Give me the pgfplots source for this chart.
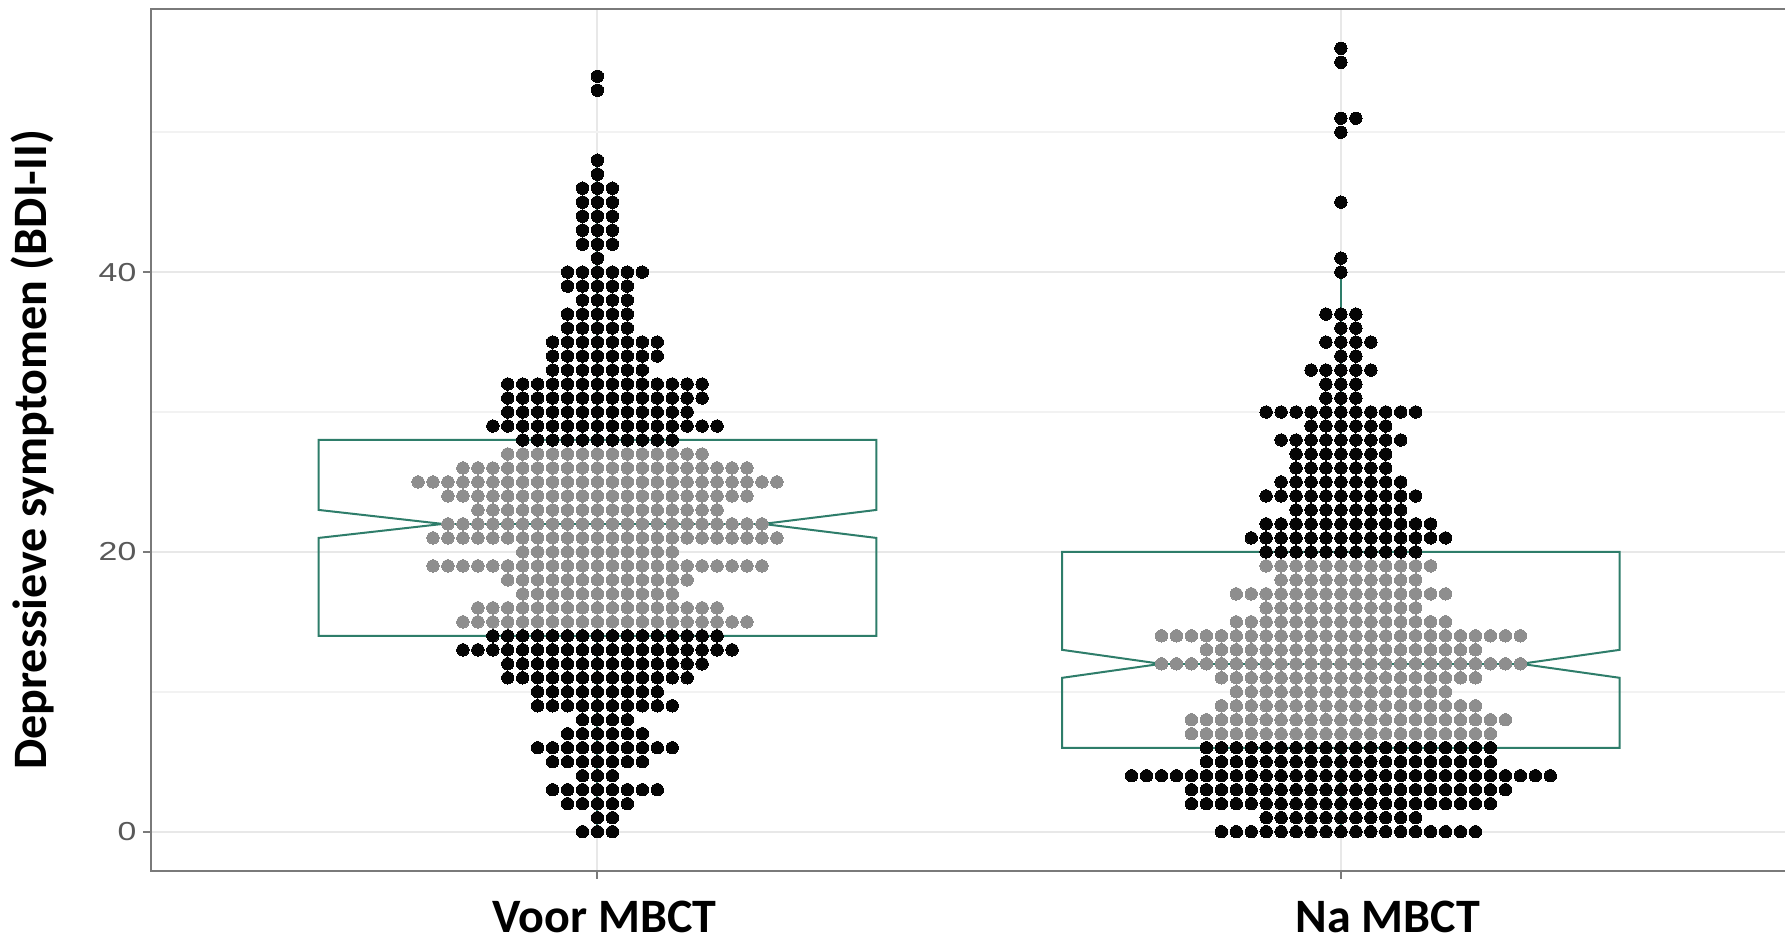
\documentclass[border=0pt]{standalone}
\usepackage{pgfplots}
\pgfplotsset{compat=1.18}
\usepackage{fontspec}
\setmainfont{Carlito}
\newfontfamily\tickfont[FakeStretch=1.3]{Liberation Sans}
\definecolor{boxteal}{HTML}{2E7D6A}
\definecolor{dotgray}{HTML}{8E8E8E}
\definecolor{dotblack}{HTML}{050505}
\definecolor{gridmaj}{HTML}{E8E8E8}
\definecolor{gridmin}{HTML}{F2F2F2}
\definecolor{framegray}{HTML}{7A7A7A}
\definecolor{ticktext}{HTML}{595959}

% dot rows: value/count
\def\cBA{}\def\cGA{}\def\cBB{}\def\cGB{}
\newcommand\dotrow[4]{%
  \pgfmathtruncatemacro\lo{-floor((#3-1)/2)}%
  \pgfmathtruncatemacro\hi{#3-1+\lo}%
  \foreach \k in {\lo,...,\hi}{%
    \pgfmathsetmacro\xx{#1+\k*0.02011}%
    \xdef#4{#4 (\xx,#2)}%
  }%
}
% Voor MBCT
\foreach \v/\n in {54/1,53/1,48/1,47/1,46/3,45/3,44/3,43/3,42/3,41/1,40/6,39/5,38/4,37/5,36/5,35/8,34/8,33/7,32/14,31/14,30/13,29/16,28/11,14/16,13/19,12/14,11/13,10/9,9/10,8/4,7/6,6/10,5/7,4/3,3/8,2/5,1/2,0/3}{\dotrow{1}{\v}{\n}{\cBA}}
\foreach \v/\n in {27/14,26/20,25/25,24/21,23/17,22/22,21/24,20/11,19/23,18/13,17/11,16/17,15/20}{\dotrow{1}{\v}{\n}{\cGA}}
% Na MBCT
\foreach \v/\n in {56/1,55/1,51/2,50/1,45/1,41/1,40/1,37/3,36/2,35/4,34/2,33/5,32/3,31/3,30/11,29/6,28/9,27/7,26/7,25/9,24/11,23/8,22/12,21/14,20/11,6/20,5/20,4/29,3/22,2/21,1/11,0/18}{\dotrow{2}{\v}{\n}{\cBB}}
\foreach \v/\n in {19/12,18/10,17/15,16/11,15/15,14/25,13/19,12/25,11/18,10/15,9/18,8/22,7/21}{\dotrow{2}{\v}{\n}{\cGB}}

\pgfplotsset{
  blackdots/.style={only marks, color=dotblack, mark=*, mark size=3.1pt, mark options={draw=dotblack, fill=dotblack, line width=0pt}},
  graydots/.style={only marks, color=dotgray, mark=*, mark size=3.1pt, mark options={draw=dotgray, fill=dotgray, line width=0pt}},
  boxline/.style={boxteal, line width=1pt, no marks, line join=miter},
}

\begin{document}
\begin{tikzpicture}
\useasboundingbox (0,0) rectangle (892.5pt,473pt);
\begin{axis}[
  at={(75.7pt,37.55pt)}, anchor=south west,
  scale only axis, width=817.8pt, height=430.9pt,
  xmin=0.4, xmax=2.6, ymin=-2.8, ymax=58.8,
  xtick={1,2}, xticklabels={},
  ytick={0,20,40}, minor ytick={10,30,50},
  grid=both,
  major grid style={gridmaj, line width=1pt},
  minor grid style={gridmin, line width=1pt},
  axis line style={framegray, line width=1pt},
  tick style={framegray, line width=1pt},
  major tick length=4pt, minor tick length=0pt,
  tick align=outside,
  xtick pos=bottom, ytick pos=left,
  /pgf/number format/assume math mode=true,
  yticklabel style={font=\tickfont\fontsize{13}{13}\selectfont, text=ticktext},
  clip=false,
]
\edef\tmp{\noexpand\addplot[graydots] coordinates {\cGA};}\tmp
\edef\tmp{\noexpand\addplot[blackdots] coordinates {\cBA};}\tmp
\edef\tmp{\noexpand\addplot[graydots] coordinates {\cGB};}\tmp
\edef\tmp{\noexpand\addplot[blackdots] coordinates {\cBB};}\tmp
% notched boxes
\addplot[boxline] coordinates {(0.625,14) (0.625,21) (0.792,22) (0.625,23) (0.625,28) (1.375,28) (1.375,23) (1.2226,22) (1.375,21) (1.375,14)} --cycle;
\addplot[boxline] coordinates {(0.792,22) (1.2226,22)};
\addplot[boxline] coordinates {(1,28) (1,48)};
\addplot[boxline] coordinates {(1,14) (1,0)};
\addplot[boxline] coordinates {(1.625,6) (1.625,11) (1.758,12) (1.625,13) (1.625,20) (2.375,20) (2.375,13) (2.242,12) (2.375,11) (2.375,6)} --cycle;
\addplot[boxline] coordinates {(1.758,12) (2.242,12)};
\addplot[boxline] coordinates {(2,20) (2,40)};
\addplot[boxline] coordinates {(2,6) (2,0)};
\end{axis}
\node[rotate=90, anchor=base, font=\bfseries\fontsize{24}{24}\selectfont] at (23.3pt,248.1pt) {Depressieve symptomen (BDI-II)};
\node[anchor=base, font=\bfseries\fontsize{24}{24}\selectfont] at (302.3pt,6.5pt) {Voor MBCT};
\node[anchor=base, font=\bfseries\fontsize{24}{24}\selectfont] at (693.9pt,6.5pt) {Na MBCT};
\end{tikzpicture}
\end{document}
